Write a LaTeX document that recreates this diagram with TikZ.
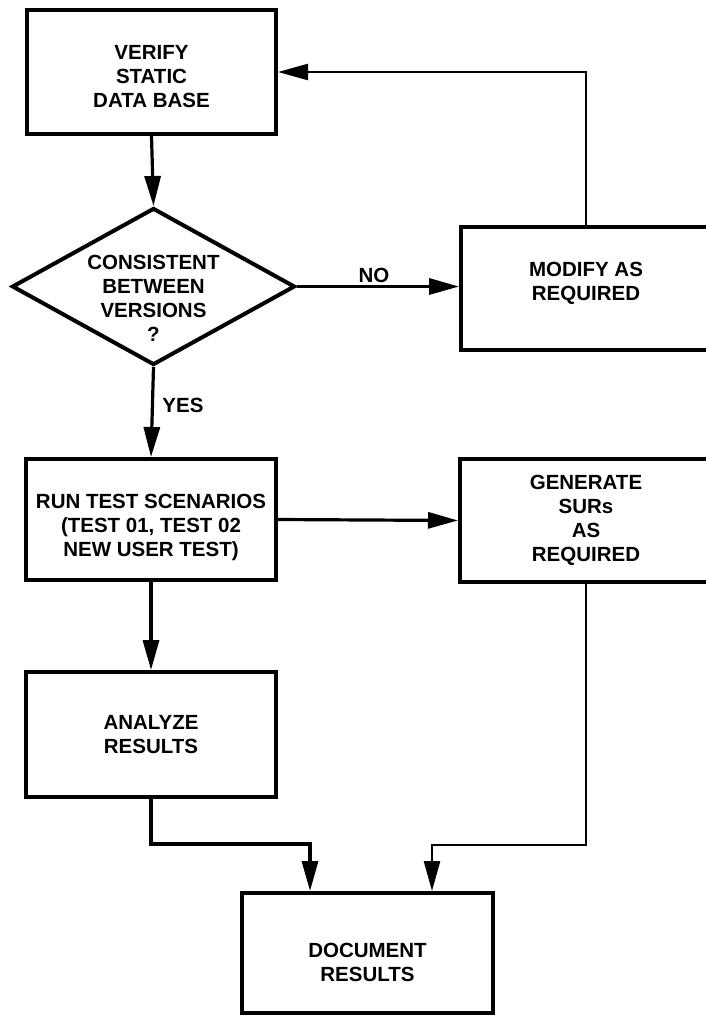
\documentclass[tikz,border=0pt]{standalone}
\usepackage{fontspec}
\setmainfont{Liberation Sans}
\usetikzlibrary{arrows.meta,shapes.geometric,calc}
\begin{document}
\begin{tikzpicture}[x=1pt,y=-1pt,
  every node/.style={font=\fontsize{20.5}{24}\selectfont\bfseries, align=center},
  box/.style={draw, line width=4pt, inner sep=0pt},
  dec/.style={draw, diamond, line width=4pt, inner sep=0pt},
  arr/.style={line width=3.2pt, -{Triangle[length=30pt,width=16pt]}},
  thinarr/.style={line width=2.6pt, -{Triangle[length=30pt,width=16pt]}},
  lbl/.style={inner sep=0pt}
]
\useasboundingbox (0,0) rectangle (706,1017);

\node[box, minimum width=249pt, minimum height=124pt, text height=72pt] (verify) at (151.5,72) {VERIFY\\STATIC\\DATA BASE};
\node[dec, minimum width=283pt, minimum height=157pt] (dia) at (153.5,286.5) {};
\node[lbl] (diatext) at (153.5,298) {CONSISTENT\\BETWEEN\\VERSIONS\\?};
\node[box, minimum width=250pt, minimum height=123pt, text depth=14.5pt] (modify) at (586,288.5) {MODIFY AS\\REQUIRED};
\node[box, minimum width=250pt, minimum height=121pt, text height=77.7pt] (run) at (151,519.5) {RUN TEST SCENARIOS\\(TEST 01, TEST 02\\NEW USER TEST)};
\node[box, minimum width=252pt, minimum height=123pt] (gen) at (586,520.5) {GENERATE\\SURs\\AS\\REQUIRED};
\node[box, minimum width=250pt, minimum height=125pt] (analyze) at (151,734.5) {ANALYZE\\RESULTS};
\node[box, minimum width=251pt, minimum height=120pt, text height=56.7pt] (doc) at (367.5,953) {DOCUMENT\\RESULTS};

\node[lbl] (no) at (374,275) {NO};
\node[lbl] (yes) at (183,405) {YES};

\coordinate (docL) at ([xshift=-57.5pt]doc.north);
\coordinate (docR) at ([xshift=64.5pt]doc.north);

\draw[arr] (verify.south) -- (dia.north);
\draw[arr] (dia.east) -- (dia.east -| modify.west);
\draw[thinarr] (modify.north) |- (verify.east);
\draw[arr] (dia.south) -- (run.north);
\draw[arr] (run.east) -- (gen.west);
\draw[arr] (run.south) -- (analyze.north);
\draw[arr] (analyze.south) -- ++(0,45) -| (docL);
\draw[thinarr] (gen.south) -- ++(0,261) -| (docR);
\end{tikzpicture}
\end{document}
